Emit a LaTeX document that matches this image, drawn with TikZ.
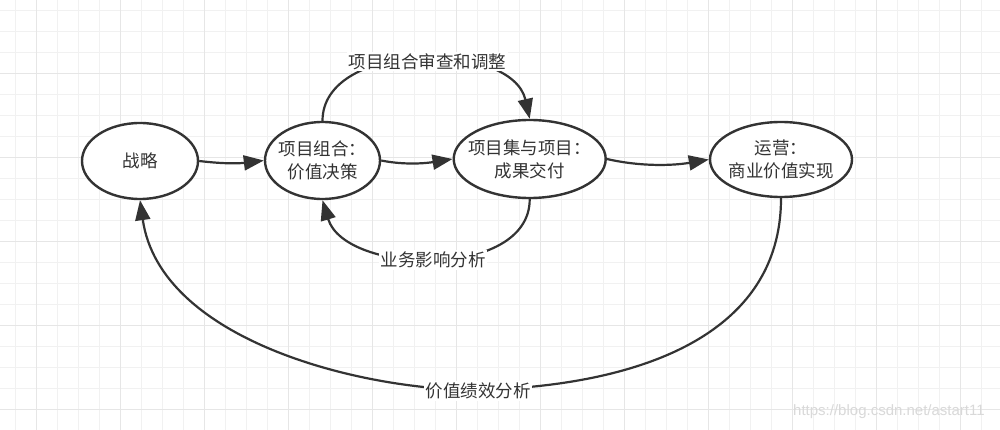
\documentclass[tikz,border=0pt]{standalone}
\usepackage{fontspec}
\setmainfont{Noto Sans CJK SC}
\newfontfamily\wmfont{Liberation Sans}
\usetikzlibrary{arrows.meta,shapes.geometric}
\definecolor{ink}{HTML}{333333}
\definecolor{gridminor}{HTML}{F1F1F1}
\definecolor{gridmajor}{HTML}{E6E6E6}
\definecolor{wmcol}{HTML}{D9D9D9}
\begin{document}
\begin{tikzpicture}[x=1pt,y=-1pt,
  stage/.style={ellipse, draw=ink, line width=2.4pt, fill=white, inner sep=-28pt, align=center, text=ink, font=\fontsize{17.5}{23}\selectfont},
  link/.style={draw=ink, line width=2.2pt, -{Triangle[length=20pt,width=15pt]}},
  lbl/.style={fill=white, inner sep=1.5pt, text=ink, font=\fontsize{17.5}{21}\selectfont}]
\useasboundingbox (0,0) rectangle (1000,430);
\fill[white] (0,0) rectangle (1000,430);
% grid
\foreach \k in {0,...,47} \draw[gridminor, line width=1pt] ({15.7+21*\k},0) -- ({15.7+21*\k},430);
\foreach \k in {0,...,19} \draw[gridminor, line width=1pt] (0,{10.7+21*\k}) -- (1000,{10.7+21*\k});
\foreach \k in {0,...,11} \draw[gridmajor, line width=1.2pt] ({36.7+84*\k},0) -- ({36.7+84*\k},430);
\foreach \k in {0,...,4} \draw[gridmajor, line width=1.2pt] (0,{73.7+84*\k}) -- (1000,{73.7+84*\k});
% stages
\node[stage, minimum width=116pt, minimum height=76pt] (s) at (140,161) {战略};
\node[stage, minimum width=115pt, minimum height=77pt] (p) at (322.5,160.5) {项目组合：\\价值决策};
\node[stage, minimum width=152pt, minimum height=78pt] (g) at (529.7,159) {项目集与项目：\\成果交付};
\node[stage, minimum width=142pt, minimum height=75pt] (o) at (781,159.5) {运营：\\商业价值实现};
% straight-ish links
\draw[link] (s.east) .. controls +(25,3) and +(-25,3) .. (p.west);
\draw[link] (p.east) .. controls +(25,5) and +(-25,4) .. (g.west);
\draw[link] (g.east) .. controls +(35,8) and +(-35,6) .. (o.west);
% loops
\draw[link] (p.north) .. controls (322.5,40) and (512,40) .. (g.north);
\draw[link] (g.south) .. controls (530,280) and (345,275) .. (p.south);
\coordinate (m) at (477,390);
\draw[line width=2.2pt, draw=ink] (o.south) .. controls (781,335) and (640,386) .. (m);
\draw[link] (m) .. controls (360,390) and (160,340) .. (s.south);
% labels
\node[lbl] (l1) at (427.5,61.5) {项目组合审查和调整};
\node[lbl] (l2) at (433.3,260) {业务影响分析};
\node[lbl] (l3) at (478.3,391) {价值绩效分析};
% watermark
\node[anchor=base west, inner sep=0pt, text=wmcol, font=\wmfont\fontsize{15}{18}\selectfont] (wm) at (793,415) {https://blog.csdn.net/astart11};
\end{tikzpicture}
\end{document}
